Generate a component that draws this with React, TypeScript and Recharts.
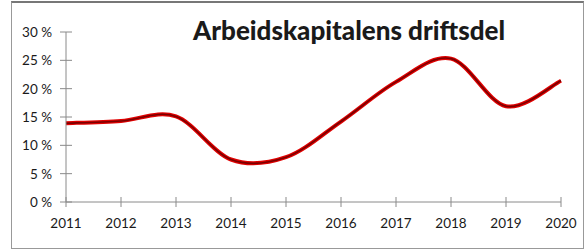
import { LineChart, Line, XAxis, YAxis } from 'recharts';

const years = ['2011', '2012', '2013', '2014', '2015', '2016', '2017', '2018', '2019', '2020'];
const shares = [13.9, 14.3, 15.1, 7.5, 7.9, 14.2, 21.2, 25.3, 16.9, 21.4];
const yTicks = [0, 5, 10, 15, 20, 25, 30];

const data = years.map((year, i) => ({ year, share: shares[i] }));

const FONT = 'Lato, "Open Sans", sans-serif';
const AXIS = '#8a8a8a';

// Excel-aktig glatting (Catmull-Rom via bezier)
function excelSmooth(context: any) {
  let pts: [number, number][] = [];
  return {
    areaStart() {},
    areaEnd() {},
    lineStart() {
      pts = [];
    },
    lineEnd() {
      const n = pts.length;
      if (!n) return;
      context.moveTo(pts[0][0], pts[0][1]);
      for (let i = 0; i < n - 1; i++) {
        const p0 = pts[Math.max(i - 1, 0)];
        const p1 = pts[i];
        const p2 = pts[i + 1];
        const p3 = pts[Math.min(i + 2, n - 1)];
        context.bezierCurveTo(
          p1[0] + (p2[0] - p0[0]) / 6,
          p1[1] + (p2[1] - p0[1]) / 6,
          p2[0] - (p3[0] - p1[0]) / 6,
          p2[1] - (p3[1] - p1[1]) / 6,
          p2[0],
          p2[1],
        );
      }
    },
    point(x: number, y: number) {
      pts.push([x, y]);
    },
  };
}

function XTick({ x, y, payload }: any) {
  return (
    <g>
      <line x1={x} x2={x} y1={y - 5} y2={y + 5} stroke={AXIS} />
      <text x={x} y={y + 21} textAnchor="middle" dominantBaseline="central" fontSize={13.5} fill="#1a1a1a" fontFamily={FONT}>
        {payload.value}
      </text>
    </g>
  );
}

function YTick({ x, y, payload }: any) {
  return (
    <g>
      <line x1={x - 6} x2={x + 6} y1={y} y2={y} stroke={AXIS} />
      <text x={x - 14} y={y} textAnchor="end" dominantBaseline="central" fontSize={13.5} fill="#1a1a1a" fontFamily={FONT}>
        {`${payload.value} %`}
      </text>
    </g>
  );
}

export default function App() {
  return (
    <div style={{ position: 'absolute', left: 0, top: 0, width: 588, height: 250, background: '#fff' }}>
      <div
        style={{
          position: 'absolute',
          left: 11,
          top: 1,
          width: 571,
          height: 245,
          borderTop: '2px solid #777',
          borderLeft: '1px solid #999',
          borderRight: '1px solid #999',
          borderBottom: '1px solid #999',
        }}
      />
      <div
        style={{
          position: 'absolute',
          left: 193,
          top: 14,
          fontFamily: FONT,
          fontWeight: 900,
          fontSize: 26,
          color: '#1a1a1a',
          whiteSpace: 'nowrap',
        }}
      >
        Arbeidskapitalens driftsdel
      </div>
      <LineChart width={588} height={250} data={data} margin={{ top: 32, right: 27, bottom: 18, left: 12 }}>
        <XAxis
          dataKey="year"
          stroke={AXIS}
          tickLine={false}
          tickSize={0}
          tickMargin={0}
          tick={<XTick />}
          height={30}
          interval={0}
        />
        <YAxis
          domain={[0, 30]}
          ticks={yTicks}
          stroke={AXIS}
          tickLine={false}
          tickSize={0}
          tickMargin={0}
          tick={<YTick />}
          width={54}
          interval={0}
        />
        <Line dataKey="share" type={excelSmooth as any} stroke="#e00000" strokeWidth={4} dot={false} isAnimationActive={false} />
        <Line dataKey="share" type={excelSmooth as any} stroke="#7a0000" strokeWidth={1.6} dot={false} isAnimationActive={false} />
      </LineChart>
    </div>
  );
}
